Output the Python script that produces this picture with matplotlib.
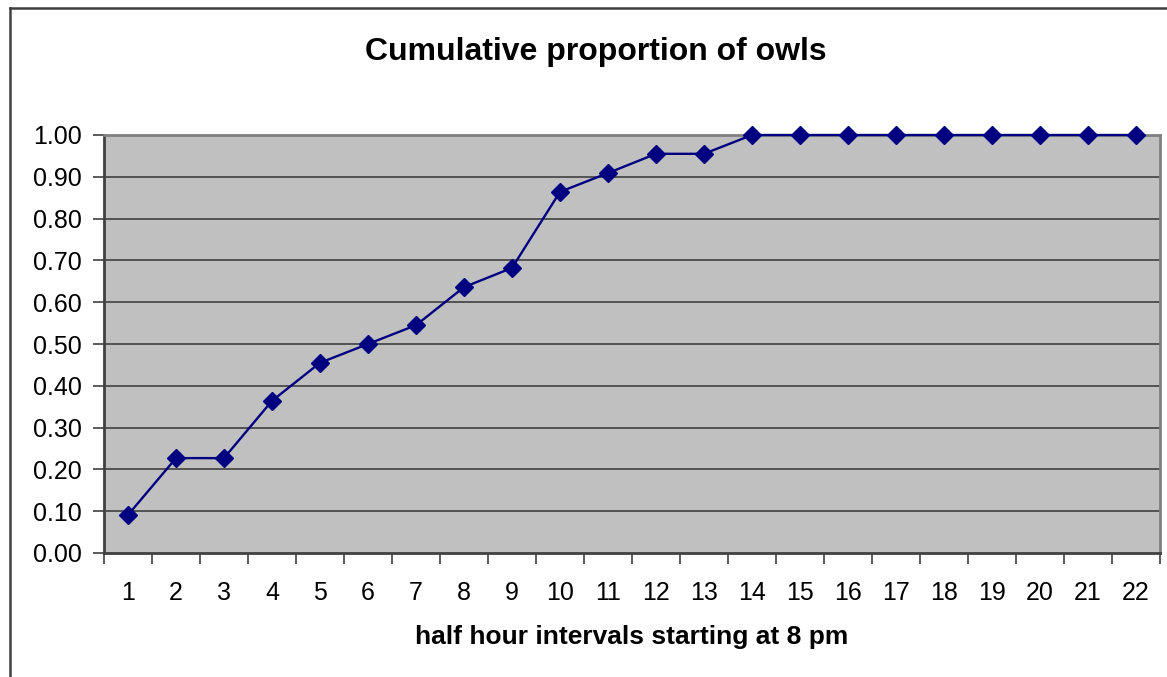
import numpy as np
import matplotlib.pyplot as plt
from matplotlib.lines import Line2D

# Data
intervals = list(range(1, 23))
proportion = [0.091, 0.227, 0.227, 0.364, 0.455, 0.500, 0.545, 0.636, 0.682,
              0.864, 0.909, 0.955, 0.955, 1.00, 1.00, 1.00, 1.00, 1.00, 1.00,
              1.00, 1.00, 1.00]
yticks = [0.0, 0.1, 0.2, 0.3, 0.4, 0.5, 0.6, 0.7, 0.8, 0.9, 1.0]

plt.rcParams['font.family'] = ['Liberation Sans', 'DejaVu Sans']

W, H = 1167, 677
fig = plt.figure(figsize=(W/100, H/100), dpi=100)

# axes placed in pixel coords of the plot area
left, right, top, bottom = 104, 1160, 135, 553
ax = fig.add_axes([left/W, 1 - bottom/H, (right-left)/W, (bottom-top)/H])
ax.set_facecolor('#c0c0c0')

x = np.arange(len(intervals))
ax.plot(x, proportion, color='#000080', lw=1.7, marker='D', ms=9,
        mec='#000080', mfc='#000080', clip_on=False, zorder=5)

ax.set_xlim(-0.5, len(intervals) - 0.5)
ax.set_ylim(0, 1)
ax.set_yticks(yticks)
ax.set_yticklabels([f"{v:.2f}" for v in yticks])
ax.set_xticks(x)
ax.set_xticklabels([str(i) for i in intervals])
ax.set_xticks(np.arange(len(intervals) + 1) - 0.5, minor=True)

# horizontal gridlines
for v in yticks[1:-1]:
    ax.axhline(v, color='#404040', lw=1.2, zorder=1)

ax.tick_params(axis='x', which='major', length=0, pad=20, labelsize=18)
ax.tick_params(axis='x', which='minor', length=8, width=1.2, color='#404040')
ax.tick_params(axis='y', length=8, width=1.2, color='#404040', pad=8,
               labelsize=18)

for side in ['left', 'bottom']:
    ax.spines[side].set_color('#404040')
    ax.spines[side].set_linewidth(2)
for side in ['top', 'right']:
    ax.spines[side].set_color('#808080')
    ax.spines[side].set_linewidth(2)

fig.text(596/W, 1 - 52/H, 'Cumulative proportion of owls', ha='center',
         va='center', fontsize=23, fontweight='bold')
fig.text(632/W, 1 - 637/H, 'half hour intervals starting at 8 pm',
         ha='center', va='center', fontsize=19, fontweight='bold')

# outer chart border, only left and top edges are inside the picture
bx, by = 9.5/W, 1 - 7.5/H
fig.add_artist(Line2D([bx, bx], [0, by], transform=fig.transFigure,
                      color='#404040', lw=1.8, zorder=10))
fig.add_artist(Line2D([bx, 1.0], [by, by], transform=fig.transFigure,
                      color='#404040', lw=1.8, zorder=10))

fig.savefig('out.png', dpi=100)
